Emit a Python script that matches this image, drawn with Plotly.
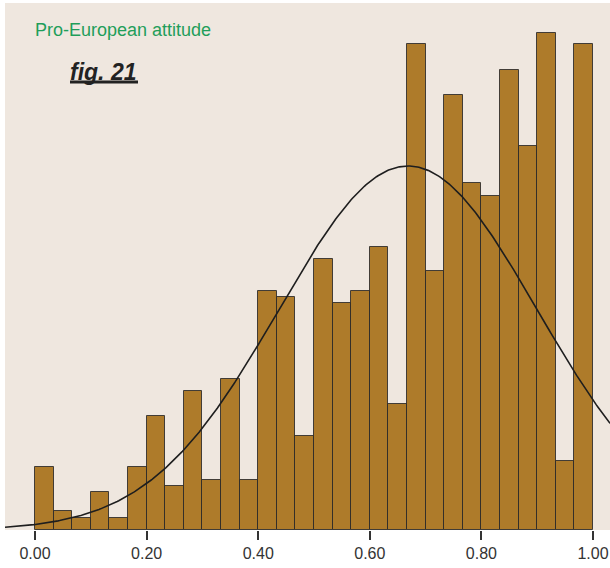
import numpy as np
import plotly.graph_objects as go

# Histogram of pro-European attitude (30 equal bins from 0 to 1)
bin_starts = [i / 30 for i in range(30)]
frequencies = [63, 19, 12, 38, 12, 63, 114, 44, 139, 50,
               151, 50, 239, 233, 94, 271, 227, 239, 283, 126,
               486, 259, 435, 347, 334, 460, 384, 497, 69, 486]
tick_values = [0.0, 0.2, 0.4, 0.6, 0.8, 1.0]
tick_labels = ["0.00", "0.20", "0.40", "0.60", "0.80", "1.00"]

# Normal-curve overlay parameters
curve_mean = 0.6685
curve_sd = 0.231
curve_peak = 364

bin_width = 1 / 30
centers = [b + bin_width / 2 for b in bin_starts]

x_lo, x_hi = -0.0538, 1.0305
xs = np.linspace(x_lo, x_hi, 400)
ys = curve_peak * np.exp(-((xs - curve_mean) ** 2) / (2 * curve_sd ** 2))

fig = go.Figure()
fig.add_trace(go.Bar(
    x=centers, y=frequencies, width=[bin_width] * len(centers),
    marker=dict(color="#AE7B2A", line=dict(color="rgba(40,40,40,0.85)", width=1)),
    hoverinfo="skip", showlegend=False,
))
fig.add_trace(go.Scatter(
    x=xs, y=ys, mode="lines",
    line=dict(color="#1e1e1e", width=1.6),
    hoverinfo="skip", showlegend=False,
))

fig.update_layout(
    width=610, height=568,
    margin=dict(l=5, r=0, t=3, b=38),
    paper_bgcolor="white",
    plot_bgcolor="#EFE7DF",
    bargap=0,
    xaxis=dict(
        range=[x_lo, x_hi], tickvals=tick_values, ticktext=tick_labels,
        ticks="outside", ticklen=9, tickwidth=1.5, tickcolor="#333",
        showgrid=False, zeroline=False, showline=False,
        tickfont=dict(family="Liberation Sans, Arial, sans-serif", size=16, color="#333"),
        fixedrange=True,
    ),
    yaxis=dict(
        range=[0, 527], visible=False, showgrid=False, zeroline=False, fixedrange=True,
    ),
    annotations=[
        dict(text="Pro-European attitude", xref="paper", yref="paper",
             x=(33 - 5) / 605, y=1 - (30 - 3) / 527, xanchor="left", yanchor="middle",
             showarrow=False,
             font=dict(family="Liberation Sans, Arial, sans-serif", size=18, color="#1F9E5A")),
        dict(text="<b><i>fig. 21</i></b>", xref="paper", yref="paper",
             x=(68 - 5) / 605, y=1 - (72 - 3) / 527, xanchor="left", yanchor="middle",
             showarrow=False,
             font=dict(family="Liberation Sans, Arial, sans-serif", size=23, color="#222")),
    ],
    shapes=[
        dict(type="line", xref="paper", yref="paper",
             x0=(70 - 5) / 605, x1=(138 - 5) / 605,
             y0=1 - (82 - 3) / 527, y1=1 - (82 - 3) / 527,
             line=dict(color="#222", width=3)),
    ],
)

fig.write_html("out.html")
